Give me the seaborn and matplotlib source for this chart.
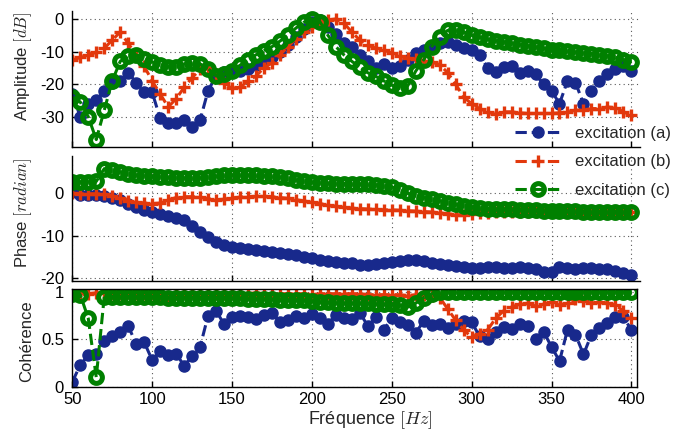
import numpy as np
import matplotlib
matplotlib.use("Agg")
import matplotlib.pyplot as plt
import seaborn as sns

# frequency grid (Hz)
freq = list(range(50, 405, 5))

# amplitude [dB]
amp_a = [-23, -30, -26, -25, -22, -19.5, -19, -16.5, -19.5, -22.5,
         -22.5, -30.5, -32, -32, -31, -33, -31, -22, -17.5, -16.2,
         -16.2, -16, -15.5, -14, -12.8, -11.8, -10, -8, -5.5, -3,
         -1, -0.3, -2.5, -4.5, -7.5, -8.5, -11, -13, -15, -13.8,
         -15, -14.5, -12.5, -10.5, -9.5, -8.5, -7.5, -7, -8, -8.8,
         -9.5, -11, -15, -16.2, -14.8, -14.5, -16.5, -16, -17, -20,
         -22, -26, -19, -19.5, -26, -22, -19, -17, -15.5, -14.5, -16]
amp_b = [-12.6, -11.8, -11, -10.2, -9, -6.5, -4, -7.5, -11, -14.5,
         -19, -23, -27, -24.5, -21, -18, -15.5, -15, -17, -19.5,
         -21.3, -21, -19, -17.5, -15, -13.5, -11, -8.5, -6, -4,
         -2.5, -1.2, -0.3, 0, -1.3, -4, -6.5, -8, -9, -9.5,
         -10.5, -11.5, -12, -12.3, -13, -13.2, -14, -16.5, -20, -24,
         -26, -27.5, -28.5, -29.3, -28.5, -28.5, -28.8, -29, -29, -29,
         -29, -28.8, -28.5, -28, -28, -27.5, -27.5, -27, -27.2, -28.5, -29.5]
amp_c = [-24, -25.5, -30, -37, -28, -19, -13, -11.3, -11, -12.3,
         -13.2, -14, -14.7, -14.6, -13.8, -13.6, -13.8, -15.2, -17.5, -17,
         -16, -14.2, -12.5, -11, -9.7, -8.5, -6.8, -5, -2.8, -1,
         0, -0.8, -5, -8.5, -11, -13, -14.8, -16.5, -17.6, -19,
         -20.3, -21.3, -20.5, -16, -12.5, -8.5, -5.4, -3.5, -3.3, -4,
         -5, -5.6, -6.3, -6.7, -7, -7.4, -7.9, -8.2, -8.6, -9,
         -9.4, -9.6, -9.9, -10.2, -10.4, -10.6, -11, -11.3, -11.8, -12.5, -13.2]

# phase [radian]
ph_a = [0.3, -0.3, -0.4, -0.5, -0.7, -1.1, -1.6, -2.4, -3.2, -3.9,
        -4.4, -4.9, -5.4, -5.9, -6.3, -7.8, -9.2, -10.3, -11.4, -12.1,
        -12.6, -12.9, -13.1, -13.3, -13.5, -13.7, -14, -14.3, -14.6, -15,
        -15.3, -15.7, -16, -16.2, -16.3, -16.5, -16.8, -16.8, -16.6, -16.3,
        -16.1, -15.9, -15.8, -15.8, -16, -16.3, -16.7, -16.9, -17.2, -17.3,
        -17.5, -17.6, -17.4, -17.3, -17.5, -17.6, -17.4, -17.5, -17.9, -18.6,
        -18.6, -17.4, -17.5, -17.7, -17.6, -17.6, -17.7, -17.8, -18.2, -18.8, -19.3]
ph_b = [0, -0.1, -0.1, -0.1, -0.2, -0.6, -1.1, -1.7, -2.1, -2.3,
        -2.4, -2.3, -1.6, -1, -0.8, -0.8, -0.9, -1.3, -1.5, -1.4,
        -1.1, -0.9, -0.8, -0.7, -0.7, -0.8, -1, -1.2, -1.5, -1.8,
        -2.1, -2.4, -2.8, -3.1, -3.3, -3.5, -3.6, -3.7, -3.8, -3.9,
        -3.9, -4, -4.1, -4.2, -4.3, -4.4, -4.6, -4.8, -5, -5.1,
        -4.9, -4.7, -4.6, -4.5, -4.5, -4.4, -4.4, -4.4, -4.4, -4.4,
        -4.4, -4.4, -4.4, -4.4, -4.4, -4.4, -4.5, -4.5, -4.5, -4.5, -4.5]
ph_c = [2.7, 2.7, 2.7, 2.8, 5.8, 5.4, 5, 4.6, 4.3, 4.1,
        4, 3.9, 3.8, 3.7, 3.6, 3.6, 3.6, 3.8, 4, 4.2,
        4.3, 4.3, 4.3, 4.2, 4.1, 4, 3.8, 3.5, 3.1, 2.8,
        2.6, 2.5, 2.4, 2.3, 2.3, 2.2, 2.2, 2.1, 2, 1.8,
        1.5, 0.8, 0, -0.6, -1, -1.4, -1.8, -2.2, -2.6, -3,
        -3.3, -3.5, -3.6, -3.7, -3.8, -3.8, -3.9, -4, -4, -4.1,
        -4.1, -4.2, -4.2, -4.2, -4.3, -4.3, -4.3, -4.3, -4.3, -4.3, -4.3]

# coherence
coh_a = [0.05, 0.23, 0.33, 0.35, 0.48, 0.53, 0.58, 0.64, 0.45, 0.47,
         0.28, 0.38, 0.33, 0.35, 0.22, 0.32, 0.42, 0.75, 0.8, 0.66,
         0.74, 0.75, 0.74, 0.71, 0.76, 0.78, 0.68, 0.7, 0.75, 0.72,
         0.77, 0.72, 0.66, 0.76, 0.72, 0.71, 0.78, 0.64, 0.73, 0.6,
         0.72, 0.68, 0.65, 0.57, 0.69, 0.65, 0.66, 0.62, 0.66, 0.69,
         0.68, 0.53, 0.5, 0.58, 0.63, 0.61, 0.66, 0.64, 0.5, 0.58,
         0.42, 0.27, 0.6, 0.55, 0.34, 0.55, 0.62, 0.67, 0.74, 0.73, 0.6]
coh_b = [0.99, 0.99, 0.98, 0.99, 0.99, 0.98, 0.98, 0.99, 0.98, 0.98,
         0.98, 0.97, 0.95, 0.98, 0.99, 0.99, 0.98, 0.99, 0.98, 0.98,
         0.98, 0.98, 0.98, 0.99, 0.98, 0.98, 0.98, 0.98, 0.98, 0.98,
         0.97, 0.98, 0.98, 0.98, 0.98, 0.98, 0.98, 0.97, 0.97, 0.97,
         0.97, 0.97, 0.96, 0.97, 0.97, 0.96, 0.94, 0.82, 0.7, 0.6,
         0.52, 0.56, 0.6, 0.72, 0.8, 0.84, 0.87, 0.88, 0.85, 0.87,
         0.89, 0.86, 0.88, 0.92, 0.9, 0.88, 0.89, 0.88, 0.86, 0.8, 0.72]
coh_c = [0.98, 0.97, 0.72, 0.1, 0.95, 0.95, 0.95, 0.95, 0.95, 0.95,
         0.95, 0.95, 0.94, 0.94, 0.94, 0.94, 0.94, 0.94, 0.94, 0.94,
         0.93, 0.93, 0.92, 0.92, 0.92, 0.92, 0.91, 0.91, 0.91, 0.91,
         0.9, 0.89, 0.89, 0.88, 0.88, 0.88, 0.88, 0.88, 0.87, 0.87,
         0.87, 0.86, 0.84, 0.88, 0.94, 0.98, 1.0, 1.0, 1.0, 1.0,
         1.0, 1.0, 1.0, 1.0, 1.0, 1.0, 1.0, 1.0, 1.0, 1.0,
         1.0, 1.0, 1.0, 1.0, 1.0, 1.0, 1.0, 1.0, 1.0, 1.0, 1.0]

labels = ["excitation (a)", "excitation (b)", "excitation (c)"]
colors = ["#18298c", "#e2380c", "#008000"]

sns.set_theme(style="ticks")
plt.rcParams["font.family"] = ["Liberation Sans", "DejaVu Sans"]
plt.rcParams["mathtext.fontset"] = "cm"
plt.rcParams["axes.unicode_minus"] = False

fig = plt.figure(figsize=(6.85, 4.32), dpi=100)
W, H = 685.0, 432.0
ax1 = fig.add_axes([72.3 / W, 1 - 147.4 / H, (640 - 72.3) / W, (147.4 - 10.8) / H])
ax2 = fig.add_axes([72.3 / W, 1 - 281.3 / H, (640 - 72.3) / W, (281.3 - 155.9) / H])
ax3 = fig.add_axes([72.3 / W, 1 - 386.7 / H, (637 - 72.3) / W, (386.7 - 289.0) / H])


def draw(ax, series):
    styles = [
        dict(marker="o", markersize=8, markerfacecolor=colors[0],
             markeredgecolor=colors[0], markeredgewidth=1),
        dict(marker="+", markersize=9, markeredgecolor=colors[1],
             markeredgewidth=2.4),
        dict(marker="o", markersize=8.5, markerfacecolor="none",
             markeredgecolor=colors[2], markeredgewidth=3.6),
    ]
    for vals, c, lab, st in zip(series, colors, labels, styles):
        sns.lineplot(x=freq, y=vals, ax=ax, color=c, linestyle="--",
                     linewidth=2.2, label=lab, legend=False, **st)


draw(ax1, [amp_a, amp_b, amp_c])
draw(ax2, [ph_a, ph_b, ph_c])
draw(ax3, [coh_a, coh_b, coh_c])

ax1.set_xlim(50, 405.4)
ax2.set_xlim(50, 405.4)
ax3.set_xlim(50, 403.5)
ax1.set_ylim(-39.4, 2.5)
ax2.set_ylim(-20.7, 8.8)
ax3.set_ylim(0, 1.03)
ax1.set_yticks([-30, -20, -10, 0])
ax2.set_yticks([-20, -10, 0])
ax3.set_yticks([0, 0.5, 1])
ax3.set_yticklabels(["0", "0.5", "1"])

for ax in (ax1, ax2, ax3):
    ax.set_xticks(range(50, 401, 50))
    ax.grid(True, linestyle=(0, (1, 3)), color="0.35", linewidth=0.8)
    ax.tick_params(direction="in", length=4, width=1, colors="black",
                   labelsize=12, pad=6)
    for s in ax.spines.values():
        s.set_color("black")
        s.set_linewidth(1)
    ax.set_xlabel("")
for ax in (ax1, ax2):
    ax.spines["top"].set_visible(False)
    ax.spines["right"].set_visible(False)
    ax.tick_params(labelbottom=False)
    ax.set_facecolor("none")
ax3.tick_params(axis="x", pad=4)

ax1.set_ylabel("Amplitude $[dB]$", fontsize=12)
ax2.set_ylabel("Phase $[radian]$", fontsize=12)
ax3.set_ylabel("Cohérence", fontsize=12)
ax1.yaxis.set_label_coords(-0.068, 0.59)
ax2.yaxis.set_label_coords(-0.068, 0.55)
ax3.yaxis.set_label_coords(-0.068, 0.47)
ax3.set_xlabel("Fréquence $[Hz]$", fontsize=13)
ax3.xaxis.set_label_coords(0.527, -0.235)

handles, _ = ax1.get_legend_handles_labels()
fig.legend(handles, labels, loc="upper left", bbox_to_anchor=(0.752, 0.708),
           frameon=False, borderpad=0, borderaxespad=0, fontsize=12,
           handlelength=2.8, handletextpad=0.8, labelspacing=0.8)

fig.savefig("out.png", dpi=100)
